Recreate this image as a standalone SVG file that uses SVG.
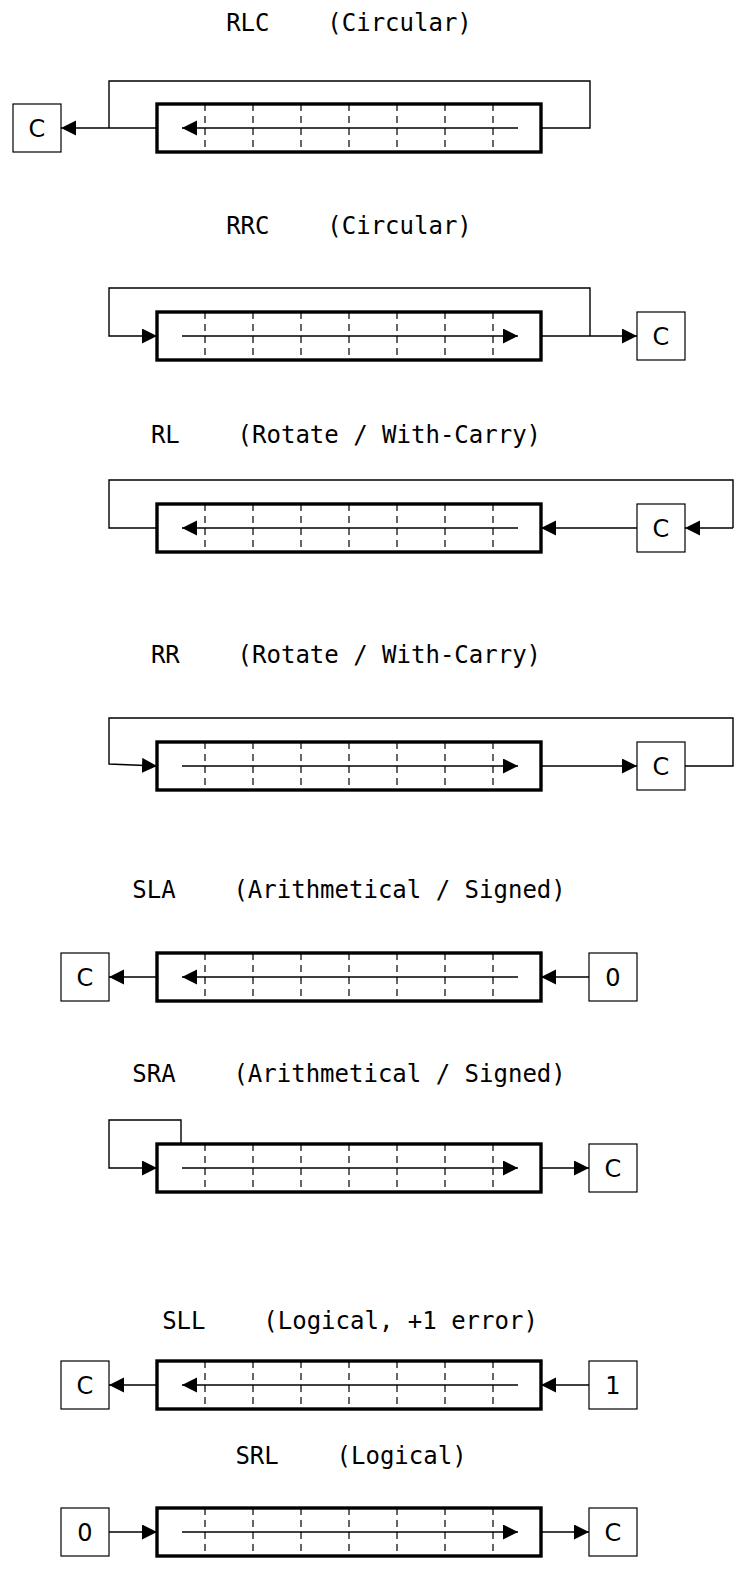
<svg xmlns="http://www.w3.org/2000/svg" width="741" height="1586" viewBox="0 0 741 1586">
  <style>
    .title { font-family: "DejaVu Sans Mono", "Liberation Mono", monospace; font-size: 24px; fill: #000; text-anchor: middle; }
    .lbl { font-family: "DejaVu Sans", "Liberation Sans", sans-serif; font-size: 24px; fill: #000; text-anchor: middle; }
    .reg { fill: #fff; stroke: #000; stroke-width: 3.4; }
    .cell { stroke: #000; stroke-width: 1.2; stroke-dasharray: 7 5; fill: none; }
    .box { fill: #fff; stroke: #000; stroke-width: 1.2; }
    .wire { fill: none; stroke: #000; stroke-width: 1.4; }
    .arr { marker-end: url(#head); }
  </style>
  <defs>
    <marker id="head" markerUnits="userSpaceOnUse" markerWidth="16" markerHeight="16" refX="15" refY="7.5" orient="auto">
      <path d="M0,0 L15,7.5 L0,15 z" fill="#000"/>
    </marker>
    <!-- 8-bit register: 384 x 48 with 7 dashed cell dividers -->
    <g id="register">
      <rect class="reg" x="0" y="-24" width="384" height="48"/>
      <path class="cell" d="M48,-24 V24 M96,-24 V24 M144,-24 V24 M192,-24 V24 M240,-24 V24 M288,-24 V24 M336,-24 V24"/>
    </g>
  </defs>

  <!-- RLC -->
  <g id="rlc">
    <text class="title" x="349" y="31" xml:space="preserve">RLC    (Circular)</text>
    <use href="#register" x="157" y="128"/>
    <path class="wire arr" d="M518,128 H182"/>
    <g id="rlc-c"><rect class="box" x="13" y="104" width="48" height="48"/><text class="lbl" x="37" y="136.5">C</text></g>
  </g>

  <!-- RRC -->
  <g id="rrc">
    <text class="title" x="349" y="234" xml:space="preserve">RRC    (Circular)</text>
    <use href="#register" x="157" y="336"/>
    <path class="wire arr" d="M182,336 H518"/>
    <g id="rrc-c"><rect class="box" x="637" y="312" width="48" height="48"/><text class="lbl" x="661" y="344.5">C</text></g>
  </g>

  <!-- RL -->
  <g id="rl">
    <text class="title" x="346" y="443" xml:space="preserve">RL    (Rotate / With-Carry)</text>
    <use href="#register" x="157" y="528"/>
    <path class="wire arr" d="M518,528 H182"/>
    <g id="rl-c"><rect class="box" x="637" y="504" width="48" height="48"/><text class="lbl" x="661" y="536.5">C</text></g>
  </g>

  <!-- RR -->
  <g id="rr">
    <text class="title" x="346" y="663" xml:space="preserve">RR    (Rotate / With-Carry)</text>
    <use href="#register" x="157" y="766"/>
    <path class="wire arr" d="M182,766 H518"/>
    <g id="rr-c"><rect class="box" x="637" y="742" width="48" height="48"/><text class="lbl" x="661" y="774.5">C</text></g>
  </g>

  <!-- SLA -->
  <g id="sla">
    <text class="title" x="349" y="898" xml:space="preserve">SLA    (Arithmetical / Signed)</text>
    <use href="#register" x="157" y="977"/>
    <path class="wire arr" d="M518,977 H182"/>
    <g id="sla-c"><rect class="box" x="61" y="953" width="48" height="48"/><text class="lbl" x="85" y="985.5">C</text></g>
    <g id="sla-0"><rect class="box" x="589" y="953" width="48" height="48"/><text class="lbl" x="613" y="985.5">0</text></g>
  </g>

  <!-- SRA -->
  <g id="sra">
    <text class="title" x="349" y="1082" xml:space="preserve">SRA    (Arithmetical / Signed)</text>
    <use href="#register" x="157" y="1168"/>
    <path class="wire arr" d="M182,1168 H518"/>
    <g id="sra-c"><rect class="box" x="589" y="1144" width="48" height="48"/><text class="lbl" x="613" y="1176.5">C</text></g>
  </g>

  <!-- SLL -->
  <g id="sll">
    <text class="title" x="350" y="1329" xml:space="preserve">SLL    (Logical, +1 error)</text>
    <use href="#register" x="157" y="1385"/>
    <path class="wire arr" d="M518,1385 H182"/>
    <g id="sll-c"><rect class="box" x="61" y="1361" width="48" height="48"/><text class="lbl" x="85" y="1393.5">C</text></g>
    <g id="sll-1"><rect class="box" x="589" y="1361" width="48" height="48"/><text class="lbl" x="613" y="1393.5">1</text></g>
  </g>

  <!-- SRL -->
  <g id="srl">
    <text class="title" x="351" y="1464" xml:space="preserve">SRL    (Logical)</text>
    <use href="#register" x="157" y="1532"/>
    <path class="wire arr" d="M182,1532 H518"/>
    <g id="srl-0"><rect class="box" x="61" y="1508" width="48" height="48"/><text class="lbl" x="85" y="1540.5">0</text></g>
    <g id="srl-c"><rect class="box" x="589" y="1508" width="48" height="48"/><text class="lbl" x="613" y="1540.5">C</text></g>
  </g>

  <!-- connectors between registers, carry and constant boxes -->
  <g id="connectors">
    <!-- RLC: bit 7 goes to C and wraps round to bit 0 -->
    <path class="wire arr" d="M157,128 H61"/>
    <path class="wire" d="M541,128 H590 V81 H109 V128"/>
    <!-- RRC: bit 0 goes to C and wraps round to bit 7 -->
    <path class="wire arr" d="M541,336 H637"/>
    <path class="wire arr" d="M590,336 V288 H109 V336 H157"/>
    <!-- RL: through carry -->
    <path class="wire arr" d="M637,528 H541"/>
    <path class="wire" d="M157,528 H109 V480 H733 V528"/>
    <path class="wire arr" d="M733,528 H685"/>
    <!-- RR: through carry -->
    <path class="wire arr" d="M541,766 H637"/>
    <path class="wire arr" d="M685,766 H733 V718 H109 V764 L157,766"/>
    <!-- SLA -->
    <path class="wire arr" d="M157,977 H109"/>
    <path class="wire arr" d="M589,977 H541"/>
    <!-- SRA: sign bit copied back -->
    <path class="wire arr" d="M181,1144 V1120 H109 V1168 H157"/>
    <path class="wire arr" d="M541,1168 H589"/>
    <!-- SLL -->
    <path class="wire arr" d="M157,1385 H109"/>
    <path class="wire arr" d="M589,1385 H541"/>
    <!-- SRL -->
    <path class="wire arr" d="M109,1532 H157"/>
    <path class="wire arr" d="M541,1532 H589"/>
  </g>
</svg>
